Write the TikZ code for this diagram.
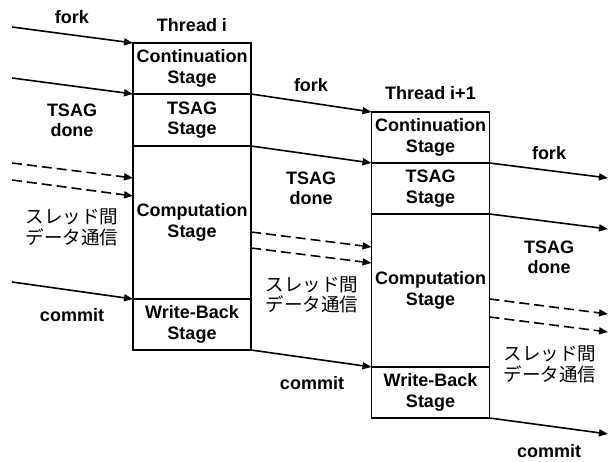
\documentclass[tikz,border=0pt]{standalone}
\usepackage{fontspec}
\setmainfont{Liberation Sans}
\newfontfamily\cjk{Noto Sans CJK JP}
\usetikzlibrary{arrows.meta}
\begin{document}
\begin{tikzpicture}[x=1pt,y=-1pt,
  stagebox/.style={draw,line width=1.6pt,minimum width=118pt,inner sep=0pt,outer sep=0pt,align=center,font=\bfseries\fontsize{18}{20.5}\selectfont},
  lbl/.style={align=center,font=\bfseries\fontsize{18}{20.5}\selectfont,inner sep=0pt},
  jlbl/.style={align=center,font=\cjk\fontsize{18.5}{20.5}\selectfont,inner sep=0pt},
  conn/.style={line width=1.6pt,-{Triangle[length=9pt,width=7pt]}},
  dconn/.style={conn,dash pattern=on 10pt off 5pt}]
\useasboundingbox[fill=white] (0,0) rectangle (612,462);
% Thread i
\node[stagebox,minimum height=51pt] (cont1) at (192,68.5) {Continuation\\Stage};
\node[stagebox,minimum height=52pt] (tsag1) at (192,120) {TSAG\\Stage};
\node[stagebox,minimum height=153pt] (comp1) at (192,222.5) {Computation\\Stage};
\node[stagebox,minimum height=51pt] (wb1) at (192,324.5) {Write-Back\\Stage};
\node[lbl] (th1) at (192,25) {Thread i};
% Thread i+1
\node[stagebox,minimum height=51pt] (cont2) at (430.5,137.5) {Continuation\\Stage};
\node[stagebox,minimum height=51pt] (tsag2) at (430.5,188.5) {TSAG\\Stage};
\node[stagebox,minimum height=153pt] (comp2) at (430.5,290.5) {Computation\\Stage};
\node[stagebox,minimum height=51pt] (wb2) at (430.5,392.5) {Write-Back\\Stage};
\node[lbl] (th2) at (430.5,93) {Thread i+1};
% left arrows
\coordinate (f0) at (12,27);
\coordinate (t0) at (12,78);
\coordinate (d0a) at (12,163);
\coordinate (d0b) at (12,180);
\coordinate (c0) at (12,282);
\draw[conn] (f0) -- (cont1.north west);
\draw[conn] (t0) -- (tsag1.north west);
\draw[dconn] (d0a) -- ([yshift=-32pt]comp1.north west);
\draw[dconn] (d0b) -- ([yshift=-50pt]comp1.north west);
\draw[conn] (c0) -- (wb1.north west);
% middle arrows
\draw[conn] (tsag1.north east) -- (cont2.north west);
\draw[conn] (comp1.north east) -- (tsag2.north west);
\draw[dconn] ([yshift=-86pt]comp1.north east) -- ([yshift=-33pt]comp2.north west);
\draw[dconn] ([yshift=-102pt]comp1.north east) -- ([yshift=-49pt]comp2.north west);
\draw[conn] (wb1.south east) -- (wb2.north west);
% right arrows
\coordinate (f2) at (608,178);
\coordinate (t2) at (608,229);
\coordinate (d2a) at (608,314);
\coordinate (d2b) at (608,332);
\coordinate (c2) at (608,434);
\draw[conn] (tsag2.north east) -- (f2);
\draw[conn] (comp2.north east) -- (t2);
\draw[dconn] ([yshift=-85pt]comp2.north east) -- (d2a);
\draw[dconn] ([yshift=-103pt]comp2.north east) -- (d2b);
\draw[conn] (wb2.south east) -- (c2);
% labels
\node[lbl] (lf0) at (72,17) {fork};
\node[lbl] (lt0) at (72,120.5) {TSAG\\done};
\node[jlbl] (lj0) at (72,227.5) {スレッド間\\データ通信};
\node[lbl] (lc0) at (72,315) {commit};
\node[lbl] (lf1) at (311,85) {fork};
\node[lbl] (lt1) at (311,188.5) {TSAG\\done};
\node[jlbl] (lj1) at (312,295) {スレッド間\\データ通信};
\node[lbl] (lc1) at (312,383) {commit};
\node[lbl] (lf2) at (549,153) {fork};
\node[lbl] (lt2) at (549,257.5) {TSAG\\done};
\node[jlbl] (lj2) at (550,364.5) {スレッド間\\データ通信};
\node[lbl] (lc2) at (549,451) {commit};
\end{tikzpicture}
\end{document}
